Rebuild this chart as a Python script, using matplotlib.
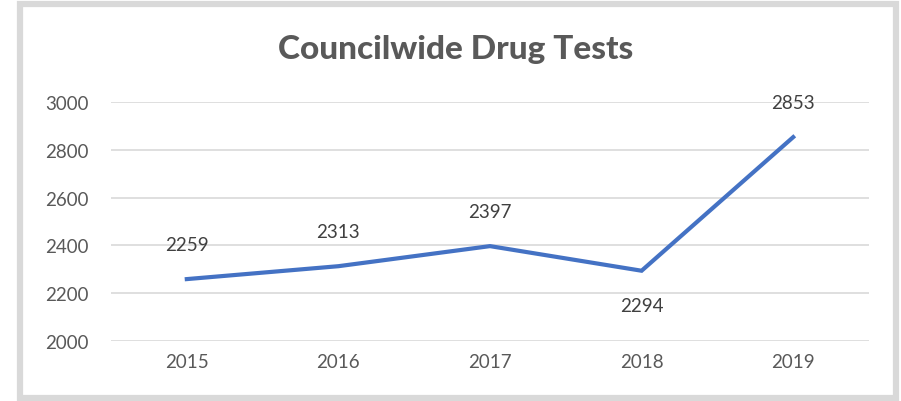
import matplotlib.pyplot as plt
from matplotlib.patches import Rectangle

years = ['2015', '2016', '2017', '2018', '2019']
tests = [2259, 2313, 2397, 2294, 2853]
label_below = [False, False, False, True, False]

W, H = 901, 402
fig = plt.figure(figsize=(W / 100, H / 100), dpi=100)
plt.rcParams['font.family'] = ['Lato', 'DejaVu Sans']

# light grey frame around the chart
fig.patches.append(Rectangle((20 / W, 1 - 398.5 / H), 875.5 / W, 394 / H,
                             transform=fig.transFigure, fill=False,
                             edgecolor='#D9D9D9', linewidth=4.5))

ax = fig.add_axes([111 / W, 1 - 342 / H, 758 / W, 239 / H])
x = range(len(years))
ax.plot(x, tests, color='#4472C4', linewidth=3, solid_joinstyle='miter')

for xi, v, below in zip(x, tests, label_below):
    ax.annotate(str(v), (xi, v), textcoords='offset points',
                xytext=(0, -25 if below else 25), ha='center', va='center',
                fontsize=13.5, color='#404040')

ax.set_xlim(-0.5, len(years) - 0.5)
ax.set_ylim(2000, 3000)
ax.set_yticks(range(2000, 3001, 200))
ax.set_xticks(list(x))
ax.set_xticklabels(years)
ax.grid(axis='y', color='#D9D9D9', linewidth=1.2)
ax.set_axisbelow(True)
for s in ax.spines.values():
    s.set_visible(False)
ax.tick_params(length=0, labelsize=13.5, labelcolor='#595959', pad=9)
ax.tick_params(axis='y', pad=16)

fig.text(456 / W, 1 - 50 / H, 'Councilwide Drug Tests', ha='center',
         va='center', fontsize=24, fontweight='black', color='#595959')

fig.savefig('out.png', dpi=100)
